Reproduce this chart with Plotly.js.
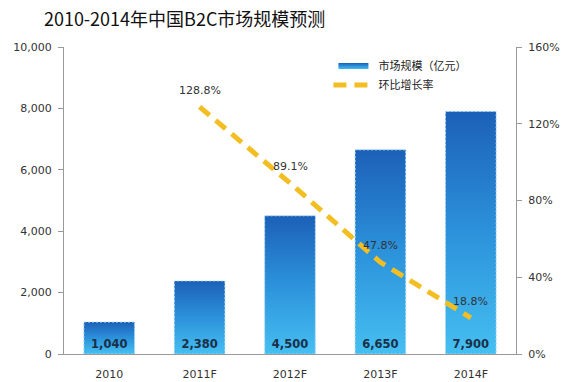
<!DOCTYPE html>
<html><head><meta charset="utf-8">
<script src="https://cdn.plot.ly/plotly-3.0.1.min.js"></script>
<style>html,body{margin:0;padding:0;background:#fff}#chart{width:563px;height:382px}</style>
</head><body><div id="chart"></div>
<script>
const categories = ['2010','2011F','2012F','2013F','2014F'];
const marketSize = [1040, 2380, 4500, 6650, 7900];
const growthCats = ['2011F','2012F','2013F','2014F'];
const growthRate = [128.8, 89.1, 47.8, 18.8];
const growthLabels = ['128.8%','89.1%','47.8%','18.8%'];
const leftTicks = [0, 2000, 4000, 6000, 8000, 10000];
const rightTicks = [0, 40, 80, 120, 160];

const cjk = 'Noto Sans CJK SC, sans-serif';
const num = 'DejaVu Sans, sans-serif';
const barTrace = {
  type: 'bar', x: categories, y: marketSize, name: '市场规模（亿元）',
  width: 0.56,
  marker: {color: '#2E8FD8', line: {color: '#A8DBF7', width: 1}},
  text: marketSize.map(v => v.toLocaleString('en-US')),
  textposition: 'inside', insidetextanchor: 'start',
  textfont: {family: num, size: 11.5, color: '#1B2F48', weight: 'bold'},
  hoverinfo: 'skip'
};
const lineTrace = {
  type: 'scatter', mode: 'lines', x: growthCats, y: growthRate, yaxis: 'y2',
  name: '环比增长率',
  line: {color: '#F2BE22', width: 5, dash: '13px,8px'},
  hoverinfo: 'skip'
};
const annotations = growthCats.map((c, i) => ({
  x: c, y: growthRate[i], xref: 'x', yref: 'y2', text: growthLabels[i],
  showarrow: false, yanchor: 'bottom', xanchor: 'center', yshift: 8,
  font: {family: num, size: 11, color: '#333'}
}));
const layout = {
  width: 563, height: 382,
  margin: {l: 64, r: 47, t: 47, b: 28},
  paper_bgcolor: '#fff', plot_bgcolor: '#fff',
  font: {family: num, size: 11, color: '#333'},
  title: {text: '2010-2014年中国B2C市场规模预测', x: 0.078, xanchor: 'left', y: 0.948, yanchor: 'middle',
          font: {family: cjk, size: 18, color: '#111'}},
  showlegend: true,
  legend: {x: 0.585, y: 0.985, xanchor: 'left', yanchor: 'top', bgcolor: 'rgba(0,0,0,0)',
           font: {family: cjk, size: 11, color: '#222'}, tracegroupgap: 0, itemwidth: 40},
  annotations: annotations,
  xaxis: {type: 'category', categoryarray: categories, range: [-0.5, 4.5],
          showline: true, linecolor: '#999', linewidth: 1, ticks: '', showgrid: false,
          ticklabelstandoff: 10,
          tickfont: {family: num, size: 11, color: '#333'}, zeroline: false},
  yaxis: {range: [0, 10000], tickvals: leftTicks, tickformat: ',d', showline: true, linecolor: '#999',
          ticks: 'outside', ticklen: 5, tickcolor: '#999', showgrid: false, zeroline: false,
          ticklabelstandoff: 4,
          tickfont: {family: num, size: 11, color: '#333'}},
  yaxis2: {overlaying: 'y', side: 'right', range: [0, 160], tickvals: rightTicks,
           ticktext: rightTicks.map(v => v + '%'),
           showline: true, linecolor: '#999', ticks: 'outside', ticklen: 5, tickcolor: '#999',
           showgrid: false, zeroline: false, ticklabelstandoff: 4,
           tickfont: {family: num, size: 11, color: '#333'}}
};
Plotly.newPlot('chart', [barTrace, lineTrace], layout, {staticPlot: true}).then(gd => {
  const svg = gd.querySelector('svg.main-svg');
  const ns = 'http://www.w3.org/2000/svg';
  let defs = svg.querySelector('defs');
  if (!defs) { defs = document.createElementNS(ns, 'defs'); svg.insertBefore(defs, svg.firstChild); }
  const g = document.createElementNS(ns, 'linearGradient');
  g.setAttribute('id', 'barGrad'); g.setAttribute('x1', '0'); g.setAttribute('y1', '0');
  g.setAttribute('x2', '0'); g.setAttribute('y2', '1');
  [['0', '#1C60B8'], ['0.5', '#2C92DB'], ['1', '#45BFF1']].forEach(([o, c]) => {
    const s = document.createElementNS(ns, 'stop');
    s.setAttribute('offset', o); s.setAttribute('stop-color', c); g.appendChild(s);
  });
  defs.appendChild(g);
  gd.querySelectorAll('.barlayer .point path').forEach(p => {
    p.style.fill = 'url(#barGrad)'; p.style.strokeDasharray = '2,2';
  });
  gd.querySelectorAll('.legend .legendpoints path.legendundefined, .legend .legendpoints path').forEach(p => {
    const tr = p.closest('.traces');
    if (tr && p.getAttribute('d') && p.getAttribute('d').indexOf('M6,6H-6V-6H6Z') === 0) {
      p.setAttribute('d', 'M15,3H-15V-3H15Z');
      p.style.fill = 'url(#barGrad)'; p.style.stroke = 'none';
    }
  });
});
</script></body></html>
